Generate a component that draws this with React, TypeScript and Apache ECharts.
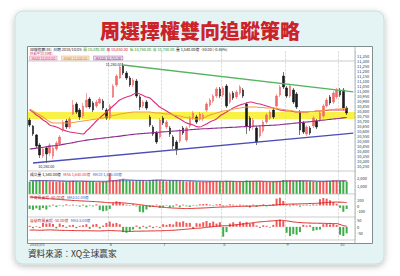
import React, { useEffect, useRef } from "react";
import * as echarts from "echarts";

const FONT = '"Noto Sans CJK TC", "Noto Sans", sans-serif';
const TITLE = "周選擇權雙向追蹤策略";
const SOURCE = "資料來源：XQ全球贏家";
const DATE = "2018/10/05";

// [open, close, low, high]
const kline: number[][] = [
  [10710,10660,10640,10730],[10650,10570,10550,10660],[10560,10450,10430,10570],[10460,10360,10330,10480],
  [10350,10420,10330,10440],[10430,10370,10280,10450],[10380,10460,10350,10480],[10350,10430,10320,10450],
  [10420,10480,10400,10500],[10470,10540,10450,10560],[10610,10690,10590,10710],[10700,10640,10620,10720],
  [10640,10720,10620,10740],[10770,10860,10760,10910],[10870,10790,10770,10890],[10810,10740,10710,10830],
  [10750,10850,10730,10880],[10840,10910,10830,10980],[10920,10840,10820,10940],[10880,10810,10790,10900],
  [10850,10890,10830,10910],[10880,10920,10870,10940],[10900,10830,10810,10920],[10810,10730,10710,10830],
  [10730,10850,10710,10870],[10940,11050,10930,11070],[11060,11150,11040,11170],[11130,11240,11120,11250],
  [11250,11180,11160,11280],[11180,11130,11110,11200],[11130,11060,11040,11150],[11060,11110,11040,11130],
  [11100,10950,10930,11120],[10940,10840,10810,10960],[10850,10890,10830,10910],[10890,10830,10810,10910],
  [10740,10660,10640,10760],[10640,10570,10550,10660],[10580,10490,10470,10600],[10540,10710,10520,10730],
  [10730,10680,10660,10750],[10640,10690,10620,10710],[10630,10570,10540,10650],[10540,10450,10420,10560],
  [10490,10410,10360,10510],[10500,10600,10480,10620],[10630,10580,10560,10650],[10510,10630,10490,10650],
  [10650,10730,10630,10750],[10730,10780,10710,10800],[10740,10690,10670,10760],[10720,10770,10700,10790],
  [10720,10760,10700,10780],[10810,10870,10790,10890],[10860,10910,10840,10930],[10900,10950,10880,10970],
  [10950,11020,10930,11040],[11020,10950,10930,11040],[10960,11030,10940,11050],[11050,10850,10830,11070],
  [10890,10970,10870,10990],[10980,10930,10910,11000],[10940,10990,10920,11010],[10980,11040,10960,11060],
  [11010,10950,10930,11030],[10870,10650,10570,10890],[10730,10630,10600,10750],[10640,10710,10610,10730],
  [10630,10490,10460,10650],[10550,10640,10530,10660],[10600,10690,10580,10710],[10690,10760,10670,10780],
  [10730,10790,10710,10810],[10810,10740,10720,10830],[10850,10950,10830,10970],[10960,11040,10940,11060],
  [11150,11040,11020,11190],[11030,10950,10930,11050],[10950,11050,10930,11070],[11010,10890,10870,11030],
  [10970,10840,10820,10990],[10790,10610,10560,10810],[10680,10590,10570,10700],[10570,10640,10550,10660],
  [10630,10580,10560,10650],[10650,10730,10630,10750],[10700,10640,10620,10720],[10710,10780,10690,10800],
  [10750,10850,10730,10870],[10850,10910,10830,10930],[10940,10880,10860,10960],[10890,10980,10870,11000],
  [10940,11010,10920,11030],[11010,10960,10940,11030],[11010,10830,10810,11030],[10830,10780,10760,10850],
];

const ma20: number[] = [
  10810,10790,10760,10740,10710,10690,10660,10650,10640,10625,
  10610,10600,10590,10585,10580,10575,10570,10600,10630,10665,
  10700,10730,10760,10790,10820,10850,10880,10910,10925,10940,
  10950,10965,10980,10970,10955,10940,10930,10900,10870,10840,
  10820,10800,10780,10760,10740,10720,10700,10680,10670,10660,
  10645,10640,10655,10670,10690,10705,10720,10750,10770,10790,
  10810,10830,10845,10860,10870,10880,10890,10885,10875,10870,
  10860,10850,10840,10830,10820,10810,10805,10800,10800,10795,
  10790,10790,10790,10790,10795,10795,10800,10800,10805,10805,
  10810,10810,10810,10810,10810,10810,
];
const ma60: number[] = [
  10820,10800,10780,10760,10740,10715,10695,10680,10680,10680,
  10680,10680,10680,10685,10690,10695,10700,10705,10710,10715,
  10720,10725,10730,10740,10745,10755,10760,10770,10775,10780,
  10785,10790,10790,10790,10790,10790,10790,10785,10780,10780,
  10775,10770,10770,10760,10755,10750,10740,10735,10730,10725,
  10720,10720,10730,10745,10760,10770,10780,10790,10800,10805,
  10810,10820,10825,10830,10835,10840,10840,10840,10840,10835,
  10835,10830,10830,10830,10825,10820,10815,10810,10805,10800,
  10795,10790,10790,10790,10795,10795,10800,10800,10805,10810,
  10810,10815,10820,10820,10825,10830,
];
const ma120: number[] = [
  10420,10424,10429,10433,10437,10442,10447,10451,10455,10460,
  10466,10472,10478,10484,10491,10497,10503,10509,10513,10517,
  10521,10525,10529,10533,10537,10541,10545,10549,10554,10558,
  10562,10566,10570,10572,10575,10578,10580,10583,10586,10588,
  10591,10593,10596,10599,10601,10604,10607,10609,10612,10615,
  10617,10620,10622,10623,10625,10627,10629,10630,10632,10634,
  10636,10637,10639,10641,10643,10644,10646,10648,10650,10651,
  10653,10655,10656,10658,10660,10663,10667,10670,10673,10677,
  10680,10683,10687,10690,10693,10697,10701,10705,10709,10712,
  10716,10720,10723,10727,10731,10735,
];

const volume: number[] = [
  1520,1600,1680,1750,1620,1700,1580,1540,1500,1560,
  1480,1520,1600,1650,1580,1500,1550,1620,1580,1500,
  1450,1480,1520,1560,2600,1700,1750,1800,1850,1700,
  1650,1600,1700,1750,1680,1600,1720,1780,1800,1700,
  1650,1600,1680,1700,1750,1650,1600,1550,1580,1520,
  1500,1480,1520,1560,1600,1580,1620,1550,1500,1650,
  1580,1540,1500,1560,1520,1700,1650,1600,1580,1550,
  1520,1500,1480,1550,1600,1620,1750,1700,1650,1600,
  1620,1700,1650,1600,1560,1520,1500,1550,1600,1650,
  1600,1720,1650,1600,1680,1540,
];
const volMa5: number[] = [
  1640,1650,1660,1670,1680,1670,1660,1650,1620,1600,
  1580,1560,1560,1570,1590,1600,1590,1580,1570,1560,
  1540,1520,1510,1530,1640,1670,1710,1760,1850,1800,
  1760,1740,1710,1700,1690,1680,1690,1700,1720,1740,
  1720,1700,1680,1670,1680,1670,1660,1650,1620,1600,
  1560,1540,1520,1520,1530,1550,1580,1580,1570,1580,
  1580,1580,1560,1550,1540,1560,1580,1600,1610,1610,
  1580,1550,1530,1520,1530,1560,1600,1640,1660,1670,
  1650,1650,1660,1650,1630,1600,1570,1550,1550,1580,
  1600,1620,1640,1640,1650,1640,
];
const volMa20: number[] = [
  1680,1680,1680,1675,1670,1665,1660,1655,1650,1645,
  1640,1635,1630,1625,1620,1615,1610,1605,1600,1600,
  1600,1600,1600,1605,1615,1625,1635,1645,1660,1670,
  1680,1685,1690,1695,1700,1700,1700,1705,1710,1715,
  1715,1715,1710,1705,1700,1695,1690,1680,1670,1660,
  1650,1640,1630,1620,1610,1600,1595,1590,1590,1590,
  1590,1585,1580,1580,1575,1575,1575,1580,1580,1585,
  1585,1585,1585,1585,1590,1595,1600,1605,1610,1615,
  1620,1625,1630,1630,1630,1625,1620,1615,1610,1610,
  1610,1615,1620,1620,1625,1625,
];

const flowBar: number[] = [
  -60,-75,-50,-80,-45,-70,
  -20,15,-25,10,-15,20,-10,15,
  10,-20,15,-30,10,-15,20,
  -80,-100,-90,-60,
  40,75,60,30,
  15,-10,20,-15,
  -110,-120,-70,
  -30,-20,15,-40,-25,10,-35,-20,20,-30,15,-15,-25,10,-10,20,
  25,30,15,-10,20,25,-15,10,20,15,-10,15,
  10,-20,-35,15,-25,10,20,-15,10,25,
  120,135,80,
  20,-15,25,15,-20,10,15,-10,20,15,
  110,130,120,90,60,30,
  -40,-110,-60,
];
const flowLine: number[] = [
  150,145,140,134,128,122,117,112,108,104,
  100,96,92,88,85,82,78,75,72,69,
  66,62,57,52,48,47,48,47,44,40,
  34,28,22,14,6,-2,-8,-14,-20,-26,
  -31,-36,-40,-44,-47,-50,-52,-53,-52,-50,
  -48,-46,-43,-40,-37,-34,-31,-28,-27,-25,
  -23,-20,-18,-15,-13,-12,-12,-10,-8,-5,
  -2,0,3,5,10,16,20,22,24,26,
  27,28,30,32,34,36,38,42,47,52,
  56,58,60,58,55,52,
];
const dealerBar: number[] = [
  8,-10,5,-8,
  30,25,28,
  22,-12,25,15,
  -8,12,15,-10,8,12,
  20,-15,18,22,-12,
  10,
  30,40,25,30,20,
  -40,-45,-35,-20,
  10,-15,8,-12,10,-10,
  5,-8,
  20,15,22,18,
  40,35,42,30,
  30,-15,28,25,
  35,45,30,40,25,35,
  -75,-40,
  25,35,20,40,30,38,22,30,
  10,-8,12,8,-5,15,
  50,55,45,
  -45,-70,-55,-60,-40,
  15,10,12,
  -30,-25,-20,
  20,25,18,22,15,
  -60,-70,-50,
];
const dealerLine: number[] = [
  -25,-24,-25,-26,-25,-24,-23,-24,-25,-26,
  -27,-27,-28,-28,-29,-29,-30,-29,-30,-30,
  -31,-31,-30,-29,-28,-29,-30,-31,-33,-35,
  -35,-34,-33,-33,-32,-32,-31,-31,-30,-30,
  -29,-28,-27,-26,-24,-22,-20,-18,-15,-13,
  -11,-10,-7,-4,-1,2,5,7,8,9,
  10,13,16,19,22,25,28,31,35,38,
  40,42,44,46,48,50,49,46,42,38,
  35,33,31,30,29,28,28,27,27,26,
  26,25,25,18,10,5,
];

const band = [10720, 10790];
const upperTrend = [[28, 11260], [97, 10992]];
const lowerTrend = [[1, 10280], [97, 10578]];
const splitIdx = [24, 40, 58, 77, 93];
const xTickIdx = [0, 24, 40, 58, 77, 93];
const xTickText = ["2018/05", "6", "7", "8", "9", "10"];
const PAD = 2;

const UP = "#f26b6b";
const DOWN = "#1b1b1b";
const VUP = "#f05a5a";
const VDN = "#3fae49";
const PINK = "#e0307a";
const ORANGE = "#f0a040";
const PURPLE = "#8e2a8e";

const fmt = (v: number) =>
  v.toLocaleString("en-US", { minimumFractionDigits: 2, maximumFractionDigits: 2 });

export default function App() {
  const ref = useRef<HTMLDivElement>(null);
  useEffect(() => {
    const chart = echarts.init(ref.current!, null, { renderer: "svg" });
    const n = kline.length;
    const cats = Array.from({ length: n + PAD }, (_, i) => String(i));
    const last = kline[n - 1];
    const prev = kline[n - 2];
    const chg = last[1] - prev[1];
    const pct = (chg / prev[1]) * 100;

    const gridL = 28;
    const gridR = 45;
    const grids = [
      { left: gridL, right: gridR, top: 51, height: 120 },
      { left: gridL, right: gridR, top: 171, height: 23 },
      { left: gridL, right: gridR, top: 194, height: 23 },
      { left: gridL, right: gridR, top: 217, height: 23 },
    ];
    const xAxes = grids.map((_, gi) => ({
      type: "category",
      gridIndex: gi,
      data: cats,
      boundaryGap: true,
      axisLine: { show: false },
      axisTick: { show: false },
      axisLabel:
        gi === 3
          ? {
              show: true,
              interval: (i: number) => xTickIdx.includes(i),
              formatter: (_v: string, i: number) => xTickText[xTickIdx.indexOf(i)] ?? "",
              fontSize: 4,
              color: "#555",
              margin: 1.5,
              align: "left",
              fontFamily: FONT,
            }
          : { show: false },
      splitLine: {
        show: true,
        interval: (i: number) => splitIdx.includes(i),
        lineStyle: { color: "#c4c4c4", type: "dashed", width: 0.6 },
      },
    }));
    const axisLbl = {
      fontSize: 4,
      color: "#333",
      margin: 2,
      showMinLabel: false,
      showMaxLabel: false,
      fontFamily: FONT,
    };
    const yAxes = [
      { gridIndex: 0, min: 10200, max: 11400, interval: 50 },
      { gridIndex: 1, min: 0, max: 2875, interval: 1000 },
      { gridIndex: 2, min: -200, max: 200, interval: 100 },
      { gridIndex: 3, min: -100, max: 75, interval: 50 },
    ].map((a) => ({
      type: "value",
      position: "right",
      ...a,
      axisLine: { show: false },
      axisTick: { show: false },
      splitLine: { show: false },
      axisLabel: axisLbl,
    }));

    const lineS = (data: number[], color: string, xi: number, w = 1.1) => ({
      type: "line",
      xAxisIndex: xi,
      yAxisIndex: xi,
      data,
      symbol: "none",
      smooth: true,
      lineStyle: { color, width: w },
      z: 3,
    });

    const sepLine = (y: number) => ({
      type: "line",
      shape: { x1: gridL, y1: y, x2: 355, y2: y },
      style: { stroke: "#b8b8b8", lineWidth: 0.7 },
      z: 50,
    });
    const txt = (x: number, y: number, text: string, rich: any, extra: any = {}) => ({
      type: "text",
      x,
      y,
      z: 60,
      style: { text, rich, fontSize: 3.8, fontFamily: FONT, verticalAlign: "middle", fill: "#222", ...extra },
    });
    const r = (fill: string, fontSize = 3.8) => ({ fill, fontSize, fontFamily: FONT });
    const boxStyle = (fill: string, bg: string, border: string) => ({
      fill, fontSize: 3.3, backgroundColor: bg, borderColor: border, borderWidth: 0.6, padding: [0, 1.5],
    });

    const option: any = {
      animation: false,
      backgroundColor: "#ffffff",
      textStyle: { fontFamily: FONT },
      title: {
        text: TITLE,
        left: "center",
        top: 15,
        textStyle: { color: "#cc2229", fontSize: 20, fontWeight: 900, fontFamily: FONT },
      },
      grid: grids,
      xAxis: xAxes,
      yAxis: yAxes,
      graphic: [
        {
          type: "rect",
          z: -10,
          shape: { x: 15, y: 11, width: 369, height: 253, r: 8 },
          style: {
            fill: "#e4f3f3",
            stroke: "#cddcdc",
            lineWidth: 1,
            shadowBlur: 6,
            shadowColor: "rgba(0,0,0,0.25)",
            shadowOffsetY: 2,
          },
        },
        {
          type: "rect",
          z: -9,
          shape: { x: 27.5, y: 46.5, width: 345, height: 197 },
          style: { fill: "#ffffff", stroke: "#7f8f8f", lineWidth: 1 },
        },
        sepLine(61),
        sepLine(171),
        sepLine(194),
        sepLine(217),
        sepLine(240),
        {
          type: "line",
          z: 50,
          shape: { x1: 355, y1: 47, x2: 355, y2: 243 },
          style: { stroke: "#9aa6a6", lineWidth: 0.8 },
        },
        txt(
          30,
          49.2,
          `{k|加權指數(日)}  {k|日期 ${DATE}}  {g|開 ${fmt(last[0])}}  {r|高 ${fmt(last[3])}}  {g|低 ${fmt(last[2])}}  {g|收 ${fmt(last[1])}}  {k|量 ${fmt(volume[n - 1])}億}  {k|${chg.toFixed(2)} (${pct.toFixed(2)}%)}`,
          { k: r("#222"), g: r("#1f9a2f"), r: r("#d02020") }
        ),
        txt(30, 53.6, "移動平均(日線)", {}, { fill: "#d04070", fontSize: 3.4 }),
        txt(30, 58, `MA20 ${fmt(ma20[n - 1])}`, {}, boxStyle(PINK, "#fde8ef", "#e88aa8")),
        txt(62, 58, `MA60 ${fmt(ma60[n - 1])}`, {}, boxStyle("#cc7a18", "#fdf0e0", "#e8b070")),
        txt(94, 58, `MA120 ${fmt(ma120[n - 1])}`, {}, boxStyle(PURPLE, "#f3e6f3", "#b070b0")),
        txt(
          30,
          174,
          `{k|成交量 ${fmt(volume[n - 1])}億}   {r|MA5 ${fmt(volMa5[n - 1])}億}   {b|MA20 ${fmt(volMa20[n - 1])}億}`,
          { k: r("#222"), r: r("#e03030"), b: r("#3060d0") }
        ),
        txt(
          30,
          197,
          `{r|外資買賣超 ${fmt(flowBar[n - 1])}億}   {b|MA5 ${fmt(flowLine[n - 1])}億}`,
          { r: r("#c03030"), b: r("#3060d0") }
        ),
        txt(
          30,
          220,
          `{r|自營商買賣超 ${fmt(dealerBar[n - 1])}億}   {b|MA5 ${fmt(dealerLine[n - 1])}億}`,
          { r: r("#c03030"), b: r("#3060d0") }
        ),
        {
          type: "text",
          x: 28,
          y: 253,
          z: 60,
          style: { text: SOURCE, fontSize: 8.6, fontFamily: FONT, fill: "#333", verticalAlign: "middle" },
        },
      ],
      series: [
        {
          type: "candlestick",
          xAxisIndex: 0,
          yAxisIndex: 0,
          data: kline,
          barWidth: 2,
          itemStyle: { color: UP, color0: DOWN, borderColor: UP, borderColor0: DOWN, borderWidth: 0.6 },
          markArea: {
            silent: true,
            itemStyle: { color: "rgba(248,238,40,0.85)" },
            data: [[{ yAxis: band[1] }, { yAxis: band[0] }]],
          },
          markLine: {
            silent: true,
            symbol: ["none", "none"],
            label: { show: false },
            data: [
              [
                { coord: upperTrend[0], lineStyle: { color: "#55b460", width: 1.3, type: "solid" } },
                { coord: upperTrend[1] },
              ],
              [
                { coord: lowerTrend[0], lineStyle: { color: "#4d4db8", width: 1.3, type: "solid" } },
                { coord: lowerTrend[1] },
              ],
            ],
          },
          markPoint: {
            symbol: "circle",
            symbolSize: 1,
            itemStyle: { color: "rgba(0,0,0,0)" },
            label: {
              show: true,
              fontSize: 3.6,
              color: "#222",
              fontFamily: FONT,
              distance: 1,
              formatter: (p: any) => fmt(Number(p.value)),
            },
            data: [
              { type: "max", valueDim: "highest", label: { position: "left", offset: [0, 1] } },
              { type: "min", valueDim: "lowest", label: { position: "bottom" } },
            ],
          },
        },
        lineS(ma20, PINK, 0),
        lineS(ma60, ORANGE, 0),
        lineS(ma120, PURPLE, 0),
        {
          type: "bar",
          xAxisIndex: 1,
          yAxisIndex: 1,
          barWidth: 2,
          data: volume.map((v, i) => ({
            value: v,
            itemStyle: { color: kline[i][1] >= kline[i][0] ? VUP : VDN },
          })),
        },
        lineS(volMa5, "#e03030", 1, 0.8),
        lineS(volMa20, "#3060d0", 1, 0.8),
        {
          type: "bar",
          xAxisIndex: 2,
          yAxisIndex: 2,
          barWidth: 2,
          data: flowBar.map((v) => ({ value: v, itemStyle: { color: v >= 0 ? VUP : VDN } })),
        },
        lineS(flowLine, "#e02020", 2, 1),
        {
          type: "bar",
          xAxisIndex: 3,
          yAxisIndex: 3,
          barWidth: 2,
          data: dealerBar.map((v) => ({ value: v, itemStyle: { color: v >= 0 ? VUP : VDN } })),
        },
        lineS(dealerLine, "#e02020", 3, 1),
      ],
    };
    chart.setOption(option);
    return () => chart.dispose();
  }, []);
  return (
    <div
      ref={ref}
      style={{ position: "absolute", left: 0, top: 0, width: 400, height: 276 }}
    />
  );
}
